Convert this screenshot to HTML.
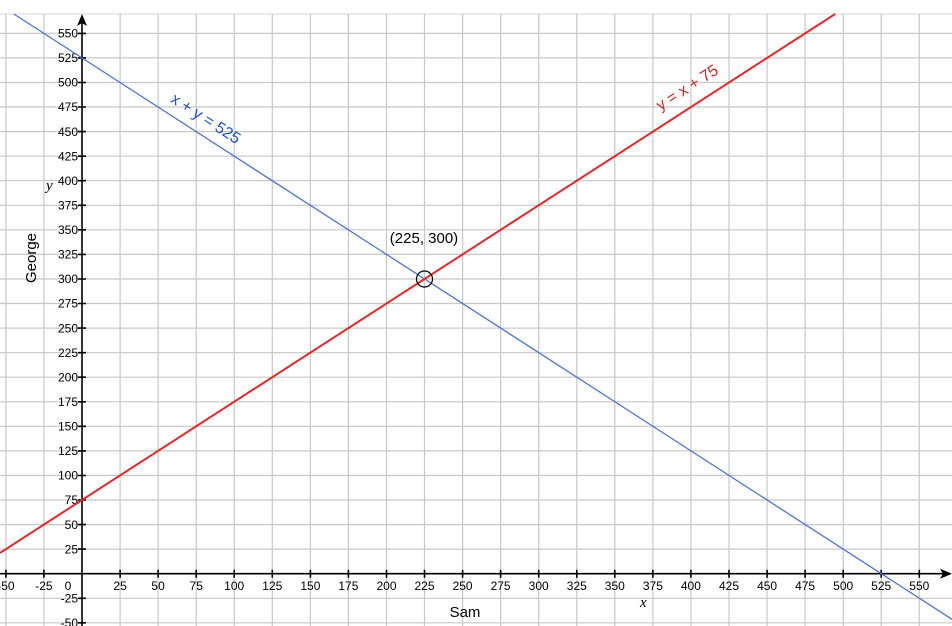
<!DOCTYPE html>
<html><head><meta charset="utf-8"><style>
html,body{margin:0;padding:0;background:#fff}
svg{display:block}
text{font-family:"Liberation Sans",sans-serif;font-size:12px;fill:#000}
</style></head><body>
<svg width="952" height="626" viewBox="0 0 952 626" xmlns="http://www.w3.org/2000/svg">
<rect width="952" height="626" fill="#fff"/>
<line x1="0" y1="14" x2="952" y2="14" stroke="#d6d6d6" stroke-width="1"/>
<g stroke="#c8c8c8" stroke-width="1.2">
<path d="M5.9 14V626M43.9 14V626M120.1 14V626M158.1 14V626M196.2 14V626M234.2 14V626M272.3 14V626M310.4 14V626M348.4 14V626M386.5 14V626M424.5 14V626M462.6 14V626M500.6 14V626M538.7 14V626M576.8 14V626M614.8 14V626M652.9 14V626M690.9 14V626M729 14V626M767.1 14V626M805.1 14V626M843.2 14V626M881.2 14V626M919.3 14V626"/>
<path d="M0 622.8H952M0 598.3H952M0 549.1H952M0 524.6H952M0 500H952M0 475.5H952M0 450.9H952M0 426.3H952M0 401.8H952M0 377.2H952M0 352.7H952M0 328.1H952M0 303.5H952M0 279H952M0 254.4H952M0 229.8H952M0 205.3H952M0 180.7H952M0 156.2H952M0 131.6H952M0 107H952M0 82.5H952M0 57.9H952M0 33.4H952"/>
</g>
<g stroke="#000" stroke-width="1.6">
<line x1="0" y1="573.7" x2="946" y2="573.7"/>
<line x1="82" y1="626" x2="82" y2="20"/>
<path d="M5.9 569.7v8M43.9 569.7v8M120.1 569.7v8M158.1 569.7v8M196.2 569.7v8M234.2 569.7v8M272.3 569.7v8M310.4 569.7v8M348.4 569.7v8M386.5 569.7v8M424.5 569.7v8M462.6 569.7v8M500.6 569.7v8M538.7 569.7v8M576.8 569.7v8M614.8 569.7v8M652.9 569.7v8M690.9 569.7v8M729 569.7v8M767.1 569.7v8M805.1 569.7v8M843.2 569.7v8M881.2 569.7v8M919.3 569.7v8"/>
<path d="M78 622.8h8M78 598.3h8M78 549.1h8M78 524.6h8M78 500h8M78 475.5h8M78 450.9h8M78 426.3h8M78 401.8h8M78 377.2h8M78 352.7h8M78 328.1h8M78 303.5h8M78 279h8M78 254.4h8M78 229.8h8M78 205.3h8M78 180.7h8M78 156.2h8M78 131.6h8M78 107h8M78 82.5h8M78 57.9h8M78 33.4h8"/>
</g>
<path d="M952 573.7l-12 -5l3 5l-3 5z" fill="#000"/>
<path d="M82 14l-5 12l5 -3l5 3z" fill="#000"/>
<g text-anchor="middle">
<text x="5.9" y="590">-50</text><text x="43.9" y="590">-25</text><text x="68" y="590">0</text>
<text x="120.1" y="590">25</text><text x="158.1" y="590">50</text><text x="196.2" y="590">75</text><text x="234.2" y="590">100</text><text x="272.3" y="590">125</text><text x="310.4" y="590">150</text><text x="348.4" y="590">175</text><text x="386.5" y="590">200</text><text x="424.5" y="590">225</text><text x="462.6" y="590">250</text><text x="500.6" y="590">275</text><text x="538.7" y="590">300</text><text x="576.8" y="590">325</text><text x="614.8" y="590">350</text><text x="652.9" y="590">375</text><text x="690.9" y="590">400</text><text x="729" y="590">425</text><text x="767.1" y="590">450</text><text x="805.1" y="590">475</text><text x="843.2" y="590">500</text><text x="881.2" y="590">525</text><text x="919.3" y="590">550</text>
</g>
<g text-anchor="end">
<text x="78" y="627">-50</text><text x="78" y="602.5">-25</text><text x="78" y="553.3">25</text><text x="78" y="528.8">50</text><text x="78" y="504.2">75</text><text x="78" y="479.7">100</text><text x="78" y="455.1">125</text><text x="78" y="430.5">150</text><text x="78" y="406">175</text><text x="78" y="381.4">200</text><text x="78" y="356.9">225</text><text x="78" y="332.3">250</text><text x="78" y="307.7">275</text><text x="78" y="283.2">300</text><text x="78" y="258.6">325</text><text x="78" y="234">350</text><text x="78" y="209.5">375</text><text x="78" y="184.9">400</text><text x="78" y="160.4">425</text><text x="78" y="135.8">450</text><text x="78" y="111.2">475</text><text x="78" y="86.7">500</text><text x="78" y="62.1">525</text><text x="78" y="37.6">550</text>
</g>
<line x1="13.9" y1="14" x2="952" y2="619.3" stroke="#4a78d6" stroke-width="1.3"/>
<line x1="0" y1="552.9" x2="835.2" y2="14" stroke="#e02a2a" stroke-width="2"/>
<circle cx="424.5" cy="279" r="8" fill="none" stroke="#000" stroke-width="1.2"/>
<text x="424" y="243" text-anchor="middle" style="font-size:15px">(225, 300)</text>
<text x="203" y="123" text-anchor="middle" transform="rotate(32.8 203 123)" style="font-size:16px;fill:#1f4fc9">x + y = 525</text>
<text x="690" y="92" text-anchor="middle" transform="rotate(-32.8 690 92)" style="font-size:16px;fill:#d42424">y = x + 75</text>
<text x="36" y="258" text-anchor="middle" transform="rotate(-90 36 258)" style="font-size:15px">George</text>
<text x="465" y="617" text-anchor="middle" style="font-size:15px">Sam</text>
<text x="46" y="190" style="font-family:'Liberation Serif',serif;font-style:italic;font-size:15px">y</text>
<text x="640" y="607" style="font-family:'Liberation Serif',serif;font-style:italic;font-size:15px">x</text>
</svg>
</body></html>
